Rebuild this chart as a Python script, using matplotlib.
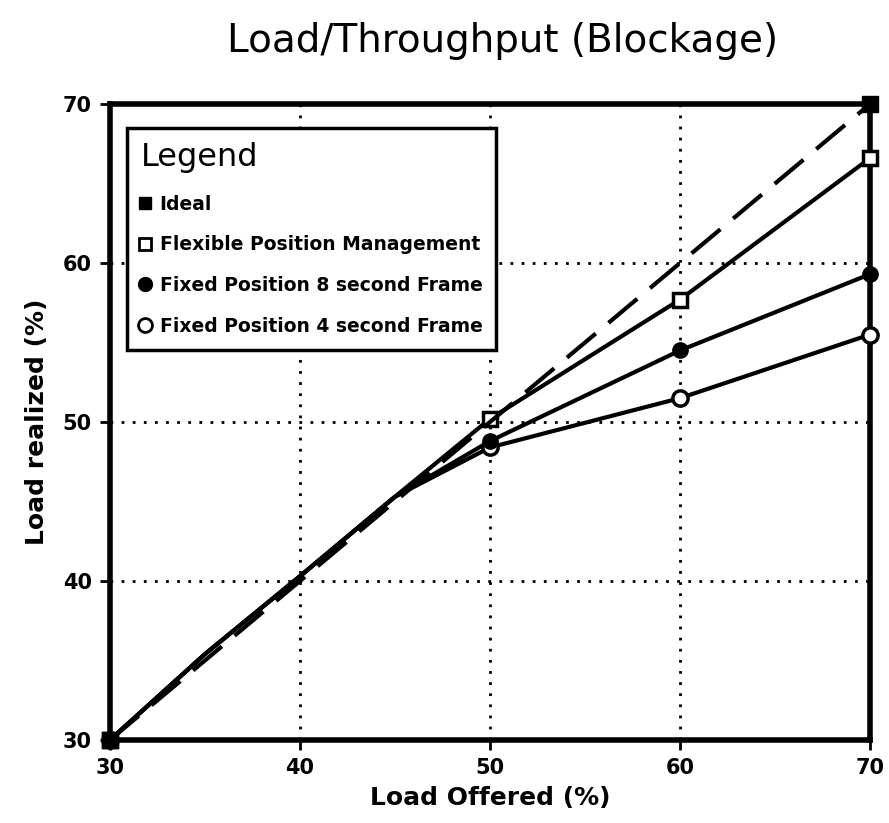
import matplotlib
matplotlib.use("Agg")
import matplotlib.pyplot as plt
from matplotlib.lines import Line2D

x_ideal = [30, 70]
y_ideal = [30, 70]

x_load = [30, 35, 40, 45, 50, 60, 70]
y_flexible = [30, 35.4, 40.3, 45.3, 50.2, 57.7, 66.6]
y_fixed8 = [30, 35.4, 40.3, 45.3, 48.8, 54.5, 59.3]
y_fixed4 = [30, 35.4, 40.3, 45.3, 48.4, 51.5, 55.5]
marker_idx = [0, 4, 5, 6]

xticks = [30, 40, 50, 60, 70]
yticks = [30, 40, 50, 60, 70]

labels = ["Ideal", "Flexible Position Management",
          "Fixed Position 8 second Frame", "Fixed Position 4 second Frame"]

fig = plt.figure(figsize=(8.89, 8.23), dpi=100)
ax = fig.add_axes([0.1237, 0.1009, 0.855, 0.7727])

lw = 3
ax.plot(x_load, y_fixed4, color="black", lw=lw, marker="o", markevery=marker_idx,
        markersize=11, markerfacecolor="white", markeredgewidth=2.5, zorder=4, clip_on=False)
ax.plot(x_load, y_flexible, color="black", lw=lw, marker="s", markevery=marker_idx,
        markersize=10, markerfacecolor="white", markeredgewidth=2.5, zorder=4, clip_on=False)
ax.plot(x_load, y_fixed8, color="black", lw=lw, marker="o", markevery=marker_idx,
        markersize=11, markerfacecolor="black", zorder=5, clip_on=False)
ax.plot(x_ideal, y_ideal, color="black", lw=lw, dashes=(9, 4), marker="s",
        markersize=11, markerfacecolor="black", zorder=6, clip_on=False)

ax.set_xlim(30, 70)
ax.set_ylim(30, 70)
ax.set_xticks(xticks)
ax.set_yticks(yticks)
ax.set_xticklabels([str(t) for t in xticks], fontsize=15, fontweight="bold")
ax.set_yticklabels([str(t) for t in yticks], fontsize=15, fontweight="bold")
ax.tick_params(direction="out", length=7, width=2, pad=6)
ax.grid(True, color="black", linestyle=(0, (1, 3)), linewidth=2)
for s in ax.spines.values():
    s.set_linewidth(4)

ax.set_xlabel("Load Offered (%)", fontsize=18, fontweight="bold", labelpad=6)
ax.set_ylabel("Load realized (%)", fontsize=18, fontweight="bold", labelpad=10)
fig.text(0.565, 0.95, "Load/Throughput (Blockage)", fontsize=28, ha="center", va="center")

handles = [
    Line2D([], [], ls="none", marker="s", markersize=9, color="black", markerfacecolor="black"),
    Line2D([], [], ls="none", marker="s", markersize=9, color="black", markerfacecolor="white", markeredgewidth=2),
    Line2D([], [], ls="none", marker="o", markersize=10, color="black", markerfacecolor="black"),
    Line2D([], [], ls="none", marker="o", markersize=10, color="black", markerfacecolor="white", markeredgewidth=2),
]
leg = ax.legend(handles, labels, title="Legend", loc="upper left",
                bbox_to_anchor=(0.022, 0.962), frameon=True, fancybox=False,
                prop={"weight": "bold", "size": 13.5}, title_fontsize=23,
                handlelength=0.5, handletextpad=0.5, labelspacing=1.15,
                borderpad=0.75, borderaxespad=0, edgecolor="black", framealpha=1)
leg._legend_box.align = "left"
leg.get_title().set_fontweight("medium")
leg.get_frame().set_linewidth(2.5)
leg.set_zorder(10)

fig.savefig("out.png", dpi=100)
